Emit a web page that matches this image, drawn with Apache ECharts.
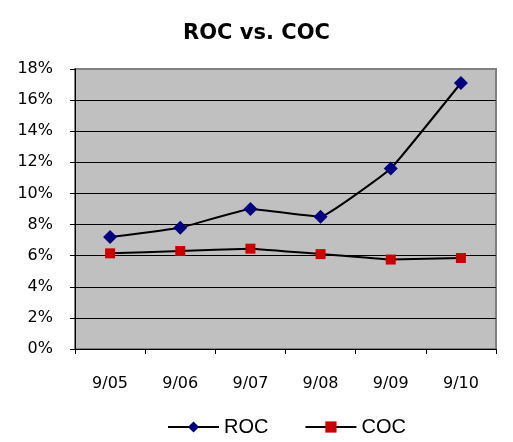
<!DOCTYPE html>
<html>
<head>
<meta charset="utf-8">
<script src="https://cdn.jsdelivr.net/npm/echarts@6/dist/echarts.min.js"></script>
<style>
  html, body { margin: 0; padding: 0; background: #ffffff; }
  #chart { width: 513px; height: 442px; }
</style>
</head>
<body>
<div id="chart"></div>
<script>
// Periods on the x axis
const periods = ['9/05', '9/06', '9/07', '9/08', '9/09', '9/10'];
// Return on capital, percent
const rocValues = [7.2, 7.8, 9.0, 8.5, 11.6, 17.1];
// Cost of capital, percent
const cocValues = [6.15, 6.3, 6.45, 6.1, 5.75, 5.85];

const chart = echarts.init(document.getElementById('chart'), null, { renderer: 'canvas' });

const axisFont = { fontFamily: 'DejaVu Sans', fontSize: 16, color: '#000000' };

chart.setOption({
  animation: false,
  backgroundColor: '#ffffff',
  title: {
    text: 'ROC vs. COC',
    left: 'center',
    top: 23,
    padding: 0,
    textStyle: { fontFamily: 'DejaVu Sans', fontWeight: 'bold', fontSize: 21, color: '#000000' }
  },
  legend: {
    top: 412,
    left: 162,
    itemWidth: 51,
    itemHeight: 14,
    itemGap: 36,
    textStyle: { fontFamily: 'Liberation Sans', fontSize: 20, color: '#000000' },
    data: ['ROC', 'COC']
  },
  grid: {
    left: 75,
    right: 17,
    top: 69,
    bottom: 93,
    show: true,
    backgroundColor: '#C0C0C0',
    borderColor: '#808080',
    borderWidth: 2
  },
  xAxis: {
    type: 'category',
    data: periods,
    boundaryGap: true,
    axisLine: { show: true, lineStyle: { color: '#000000', width: 1 } },
    axisTick: { show: true, length: 5, alignWithLabel: false, lineStyle: { color: '#000000' } },
    axisLabel: Object.assign({ margin: 27 }, axisFont)
  },
  yAxis: {
    type: 'value',
    min: 0,
    max: 18,
    interval: 2,
    axisLine: { show: true, lineStyle: { color: '#000000', width: 1 } },
    axisTick: { show: true, length: 5, lineStyle: { color: '#000000' } },
    axisLabel: Object.assign({ margin: 22, formatter: '{value}%' }, axisFont),
    splitLine: { show: true, showMaxLine: false, lineStyle: { color: '#000000', width: 1 } }
  },
  series: [
    {
      name: 'ROC',
      type: 'line',
      data: rocValues,
      smooth: 0.08,
      symbol: 'diamond',
      symbolSize: 14,
      lineStyle: { color: '#000000', width: 2 },
      itemStyle: { color: '#000080', borderWidth: 0 }
    },
    {
      name: 'COC',
      type: 'line',
      data: cocValues,
      smooth: 0.08,
      symbol: 'rect',
      symbolSize: 10,
      lineStyle: { color: '#000000', width: 2 },
      itemStyle: { color: '#CC0000', borderWidth: 0 }
    }
  ]
});
</script>
</body>
</html>
